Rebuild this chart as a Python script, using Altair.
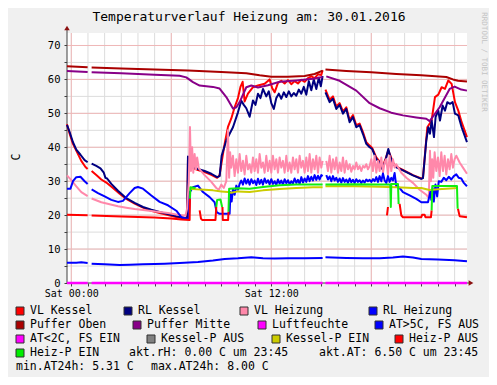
import altair as alt
import pandas as pd

MONO = "DejaVu Sans Mono"

# ---------------- texts / axis ----------------
TITLE = "Temperaturverlauf Heizung am: 30.01.2016"
WATERMARK = "RRDTOOL / TOBI OETIKER"
Y_UNIT = "C"
T_RANGE = [-0.258, 23.742]          # hours (Sat 00:00 = 0)
Y_RANGE = [0, 73.68]
X_TICK_HOURS = list(range(0, 24))
X_MAJOR_HOURS = [0, 6, 12, 18]
Y_TICKS = list(range(0, 75, 5))
Y_MAJOR = list(range(10, 80, 10))

# ---------------- series (hour, value); None = gap ----------------
VL_KESSEL = [(-0.26,46.8),(-0.1,44.0),(0.1,41.0),(0.35,38.5),(0.6,36.0),(0.85,34.2),(0.98,33.6),(1.1,None),
    (1.22,33.0),(1.5,31.8),(1.8,30.5),(2.1,29.6),(2.5,28.0),(2.9,26.3),(3.3,24.8),(3.8,23.4),(4.3,22.2),
    (4.8,21.3),(5.3,20.6),(5.8,20.0),(6.4,19.3),(6.95,18.9),(7.0,36.5),(7.1,34.6),(7.3,33.9),(7.6,33.3),
    (8.0,32.7),(8.4,31.9),(8.75,31.0),(8.9,31.8),(9.0,35.0),(9.2,41.0),(9.4,46.0),(9.6,48.5),(9.8,51.8),
    (10.0,54.5),(10.15,57.8),(10.28,59.3),(10.4,53.5),(10.6,55.8),(10.9,57.7),(11.2,58.2),(11.6,58.7),
    (11.9,60.0),(12.05,57.5),(12.2,56.2),(12.4,59.0),(12.6,59.6),(12.8,58.8),(13.0,59.8),(13.2,58.6),
    (13.4,59.5),(13.6,58.8),(13.8,59.9),(14.0,59.3),(14.2,60.4),(14.4,60.9),(14.6,60.4),(14.8,61.5),
    (15.0,61.3),(15.08,62.7),(15.16,None),(15.25,57.0),(15.5,54.0),(15.7,55.0),(15.9,52.0),(16.1,53.0),
    (16.3,50.5),(16.5,51.8),(16.7,48.0),(16.9,49.5),(17.1,46.5),(17.3,47.0),(17.5,44.5),(17.7,41.5),
    (17.9,40.5),(18.05,39.8),(18.3,37.0),(18.5,35.8),(18.65,34.0),(18.85,36.5),(19.02,39.0),(19.15,37.5),
    (19.3,35.5),(19.5,34.3),(19.9,33.3),(20.5,31.8),(21.0,30.8),(21.1,31.0),(21.36,45.9),(21.62,47.9),
    (21.82,54.8),(22.02,55.5),(22.22,57.7),(22.42,57.2),(22.62,59.7),(22.82,58.7),(23.02,53.3),
    (23.22,50.8),(23.42,47.4),(23.74,43.0)]

RL_KESSEL = [(-0.26,46.6),(-0.1,44.5),(0.1,41.5),(0.3,39.3),(0.55,37.8),(0.8,36.2),(0.98,35.6),(1.1,None),
    (1.22,35.2),(1.5,34.5),(1.75,33.8),(1.95,32.5),(2.05,31.0),(2.15,30.8),(2.4,29.2),(2.8,27.2),(3.3,25.0),
    (3.8,23.6),(4.3,22.4),(4.8,21.6),(5.3,20.9),(5.8,20.3),(6.3,19.7),(6.95,19.0),(7.0,37.3),(7.1,35.0),
    (7.3,34.2),(7.6,33.6),(8.0,33.0),(8.4,32.2),(8.75,31.2),(8.9,31.5),(9.02,37.5),(9.3,42.0),(9.5,44.0),
    (9.7,45.9),(10.0,50.3),(10.2,53.7),(10.35,52.5),(10.5,51.5),(10.7,49.0),(10.9,53.8),(11.05,52.5),
    (11.2,55.8),(11.35,54.5),(11.5,57.2),(11.7,55.0),(11.85,56.5),(12.0,53.0),(12.15,51.3),(12.3,54.5),
    (12.45,55.8),(12.6,54.3),(12.75,56.2),(12.9,54.8),(13.05,56.5),(13.2,55.0),(13.35,56.0),(13.5,55.2),
    (13.65,57.0),(13.8,55.8),(13.95,57.8),(14.1,55.5),(14.25,59.5),(14.4,56.8),(14.55,60.0),(14.7,57.2),
    (14.85,60.5),(14.97,58.0),(15.08,61.0),(15.16,None),(15.25,56.2),(15.5,53.3),(15.7,54.3),(15.9,51.3),
    (16.1,52.5),(16.3,49.9),(16.5,51.3),(16.7,47.4),(16.9,48.9),(17.1,45.9),(17.3,46.5),(17.5,43.9),
    (17.7,41.0),(17.9,40.0),(18.05,39.5),(18.3,36.5),(18.5,35.5),(18.65,33.6),(18.85,36.1),(19.02,39.5),
    (19.15,37.1),(19.3,35.1),(19.5,34.1),(19.9,33.2),(20.5,31.7),(21.0,30.7),(21.1,30.9),(21.3,42.0),
    (21.42,45.9),(21.52,44.0),(21.62,47.9),(21.76,43.0),(21.86,49.0),(22.02,50.8),(22.12,47.9),
    (22.28,52.3),(22.42,50.8),(22.56,53.3),(22.72,52.8),(22.88,53.3),(23.02,49.9),(23.22,49.4),
    (23.42,45.9),(23.74,41.5)]

VL_HEIZ_HEAD = [(-0.26,31.7),(0.0,30.3),(0.3,28.5),(0.6,26.8),(0.98,25.6),(1.1,None),(1.22,24.9),(1.8,23.8),
    (2.3,23.2),(2.8,22.6),(3.3,22.2),(3.8,21.8),(4.3,21.5),(4.8,21.2),(5.3,20.9),(5.8,20.6),(6.3,20.2),
    (6.85,19.8),(6.95,22.0),(7.05,30.0),(7.12,46.0),(7.18,33.0),(7.25,40.0),(7.32,32.5),(7.4,38.0),
    (7.48,33.5),(7.55,37.0),(7.65,33.8),(8.0,31.8),(8.4,29.8),(8.7,28.0),(8.85,27.5),(9.0,29.0),
    (9.15,28.0),(9.3,30.0),(9.4,45.0),(9.47,31.0),(9.53,38.5)]
VL_HEIZ_A_START = 9.6   # values every 0.1 h
VL_HEIZ_A = [34,37.5,31.5,36.5,32.5,38,33,36,32,37.5,33.5,35,32.5,37,33,36.5,32.5,38,34,35.5,32.5,37.5,33,36,
    32.5,37.5,33.5,36.5,32.5,37,34,36,32.5,37.5,33,35.5,32.5,37,33.5,36.5,32.5,37.5,34,36,32.5,37,33,38,32.5,
    36.5,33.5,37.5,32.5,37,34]
VL_HEIZ_MID = [(15.08,36.0),(15.16,None)]
VL_HEIZ_B_START = 15.3
VL_HEIZ_B = [36,33,37.5,32.5,36.5,33.5,37,32.5,35.5,33,37,32.5,36,33.5,35,32.8,34.5,33.5,35.5,33.5,34.5,33,34.5,
    34,35,33.5,34.5,36.5,33,37.5,32.5,36,33,37,32.5,35.5,36.5,32,37.5,33,36.5,34]
VL_HEIZ_TAIL = [(19.5,35.0),(19.8,32.5),(20.1,31.0),(20.5,29.5),(20.9,27.5),(21.3,26.0),(21.45,25.0),
    (21.52,39.0),(21.58,30.0),(21.65,36.5),(21.72,31.0),(21.8,38.5),(21.9,33.0),(22.0,37.0),(22.1,31.5),
    (22.2,38.5),(22.3,33.0),(22.4,37.5),(22.5,32.0),(22.6,36.5),(22.7,33.5),(22.8,38.0),(22.9,34.0),
    (23.0,36.5),(23.1,37.5),(23.3,35.5),(23.5,34.0),(23.74,32.2)]

RL_HEIZ_HEAD = [(-0.26,27.8),(-0.05,27.8),(0.1,30.0),(0.3,31.2),(0.55,31.3),(0.8,30.0),(0.98,29.2),(1.1,None),
    (1.22,27.6),(1.6,26.5),(2.0,25.5),(2.4,24.5),(2.8,23.9),(3.1,24.2),(3.5,26.5),(3.8,28.0),(4.0,28.3),
    (4.3,27.8),(4.8,25.8),(5.3,23.9),(5.8,22.9),(6.3,21.3),(6.6,19.4),(7.05,18.8),(7.12,26.8),(7.3,28.2),
    (7.6,28.7),(7.9,26.8),(8.3,25.3),(8.6,23.8),(8.72,20.9),(8.9,20.4),(9.5,20.4),(9.55,26.8),(9.62,24.0),
    (9.7,27.7),(9.8,26.0),(9.9,28.7),(10.0,27.5),(10.1,29.2)]
RL_HEIZ_A_START = 10.2
RL_HEIZ_A = [30.2,29.0,30.8,29.3,30.5,29.0,30.6,29.4,30.2,28.9,30.7,29.2,30.4,29.0,30.8,29.5,30.3,29.1,30.6,29.2,
    30.0,28.9,30.5,29.3,30.2,29.0,30.6,29.4,30.3,29.1,30.0,29.3,30.8,29.5,30.4,29.2,31.2,29.6,30.8,29.8,31.5,
    30.0,31.3,30.2,31.8,30.4,31.6,30.5,31.8]
RL_HEIZ_MID = [(15.08,31.5),(15.16,None)]
RL_HEIZ_B_START = 15.3
RL_HEIZ_B = [31.8,30.5,31.4,30.0,31.5,30.2,31.0,29.8,30.8,29.6,30.9,29.8,30.5,29.5,30.8,29.7,30.4,29.5,30.6,29.8,
    30.3,29.5,30.2,29.6,30.5,30.0,30.4,29.8,30.6,30.0,31.2,29.8,31.5,30.0,32.3,30.2,29.5,31.5,29.8,31.0,30.2,32.4]
RL_HEIZ_TAIL = [(19.5,28.5),(19.7,28.0),(19.9,26.8),(20.3,25.8),(20.7,24.8),(21.0,23.8),(21.4,23.8),
    (21.55,27.0),(21.6,24.5),(21.68,28.0),(21.75,24.0),(21.85,29.0),(21.95,25.5),(22.05,30.0),(22.2,29.8),
    (22.35,31.0),(22.5,30.3),(22.65,31.3),(22.8,30.5),(22.95,31.5),(23.1,32.0),(23.25,31.0),(23.4,30.8),
    (23.55,29.5),(23.74,28.5)]

PUFFER_OBEN = [(-0.26,63.9),(0.98,63.6),(1.1,None),(1.22,63.5),(3.0,63.2),(5.0,62.9),(7.0,62.6),(9.0,62.2),
    (10.5,61.8),(11.3,61.2),(12.0,60.8),(13.0,60.8),(14.0,61.0),(14.6,61.6),(15.08,62.6),(15.16,None),
    (15.25,62.9),(16.5,62.5),(18.0,62.1),(19.5,61.6),(21.0,61.2),(22.5,60.7),(22.9,60.0),(23.2,59.6),
    (23.74,59.4)]

PUFFER_MITTE = [(-0.26,62.5),(0.98,62.2),(1.1,None),(1.22,62.1),(3.0,61.8),(5.0,61.4),(6.5,61.1),(6.9,60.6),
    (7.3,59.2),(7.7,58.2),(8.5,57.8),(8.9,57.3),(9.3,54.8),(9.7,51.4),(9.9,51.8),(10.1,53.3),(10.5,57.7),
    (10.8,58.2),(11.2,57.6),(11.8,58.3),(12.5,59.3),(13.5,59.7),(14.5,60.2),(15.08,60.7),(15.16,None),
    (15.3,60.9),(16.1,59.6),(17.1,56.7),(17.9,53.0),(18.5,51.5),(19.2,50.2),(19.9,49.4),(20.7,48.8),
    (21.3,48.4),(21.5,47.7),(22.1,51.8),(22.7,57.2),(23.0,57.9),(23.4,57.0),(23.74,56.7)]

LUFTFEUCHTE = [(-0.26,0.0),(0.98,0.0),(1.1,None),(1.22,0.0),(15.08,0.0),(15.16,None),(15.25,0.0),(23.74,0.0)]

AUSSEN = [(-0.26,5.95),(0.3,6.0),(0.6,6.1),(0.98,5.9),(1.1,None),(1.22,5.7),(2.0,5.5),(2.9,5.31),(3.5,5.4),
    (4.3,5.5),(5.0,5.6),(5.6,5.7),(6.5,5.9),(7.6,6.2),(8.5,6.6),(9.2,7.1),(10.0,7.3),(10.8,7.6),(11.5,7.3),
    (12.2,7.2),(13.0,7.3),(14.0,7.3),(15.08,7.4),(15.16,None),(15.25,7.6),(16.5,7.4),(17.5,7.3),(18.5,7.3),
    (19.3,7.5),(19.9,7.8),(20.5,7.5),(21.0,7.1),(22.0,6.9),(23.0,6.7),(23.74,6.4)]

KESSEL_P_EIN = [(7.1,27.8),(7.5,27.6),(8.0,27.5),(8.5,27.3),(9.0,27.0),(9.4,26.8),(9.6,26.6),(10.0,27.0),
    (10.7,26.8),(11.5,27.3),(12.5,27.7),(13.5,28.0),(14.5,28.2),(15.08,28.2),(15.16,None),(15.25,28.5),
    (17.0,28.5),(18.5,28.4),(19.5,28.2),(20.5,28.0),(21.0,28.0),(21.5,27.4),(22.0,27.6),(22.5,27.8),
    (23.2,28.0)]

HEIZ_P_AUS = [(-0.26,20.1),(0.98,20.0),(1.1,None),(1.22,19.9),(3.0,19.6),(5.0,19.3),(6.0,19.0),(6.6,18.7),
    (7.1,18.6),(7.12,24.9),(7.3,None),(7.7,21.4),(7.78,19.0),(7.85,18.6),(8.65,18.6),(8.7,22.4),(8.8,None),
    (9.07,22.4),(9.09,18.6),(9.41,18.6),(9.43,21.0),(9.45,None),(18.94,19.9),(19.0,22.4),(19.05,None),
    (19.7,23.3),(19.8,19.9),(19.9,19.4),(21.0,19.4),(21.05,20.1),(21.2,20.1),(21.25,19.4),(21.58,19.4),
    (21.62,21.4),(21.65,None),(23.2,21.9),(23.3,19.7),(23.74,19.4)]

HEIZ_P_EIN = [(7.12,24.9),(7.15,28.2),(7.45,28.0),(7.5,None),(8.7,22.4),(8.75,24.5),(8.95,24.6),(9.05,22.4),
    (9.1,None),(9.43,21.0),(9.47,27.8),(10.0,27.9),(10.7,27.8),(11.5,28.3),(12.5,28.8),(13.5,29.0),
    (15.08,29.0),(15.16,None),(15.25,29.0),(17.0,29.1),(18.5,29.0),(19.14,29.0),(19.17,22.4),(19.2,29.2),
    (19.6,29.2),(19.64,23.3),(19.7,None),(21.62,21.4),(21.66,28.6),(23.14,28.6),(23.18,21.9)]

# ---------------- legend ----------------
LEGEND_LABELS = ["VL Kessel", "RL Kessel", "VL Heizung", "RL Heizung",
                 "Puffer Oben", "Puffer Mitte", "Luftfeuchte", "AT>5C, FS AUS",
                 "AT<2C, FS EIN", "Kessel-P AUS", "Kessel-P EIN", "Heiz-P AUS",
                 "Heiz-P EIN"]
LEGEND_COLORS = ["#ff0000", "#000080", "#ff88aa", "#0000ff",
                 "#aa0000", "#880088", "#ff00ff", "#0000ff",
                 "#ff00ff", "#808080", "#cccc00", "#ff0000",
                 "#00ee00"]
INFO_TEXTS = ["akt.rH: 0.00 C um 23:45", "akt.AT: 6.50 C um 23:45",
              "min.AT24h: 5.31 C", "max.AT24h: 8.00 C"]

# layout (page pixels)
OX, OY = 67, 33
LEG_BOX_X = [16, 124, 240, 369, 16, 133, 258, 375, 16, 147, 272, 395, 16]
LEG_ROW = [0, 0, 0, 0, 1, 1, 1, 1, 2, 2, 2, 2, 3]
ROW_Y = [311, 325, 339, 353, 367]
INFO_POS = [(129, 3), (319, 3), (16, 4), (151, 4)]


def frame(pairs):
    return pd.DataFrame({"t": [p[0] for p in pairs], "v": [p[1] for p in pairs]})


def grid_frame(start, values, step=0.1):
    return [(round(start + step * i, 2), val) for i, val in enumerate(values)]


VL_HEIZUNG = VL_HEIZ_HEAD + grid_frame(VL_HEIZ_A_START, VL_HEIZ_A) + VL_HEIZ_MID + \
    grid_frame(VL_HEIZ_B_START, VL_HEIZ_B) + VL_HEIZ_TAIL
RL_HEIZUNG = RL_HEIZ_HEAD + grid_frame(RL_HEIZ_A_START, RL_HEIZ_A) + RL_HEIZ_MID + \
    grid_frame(RL_HEIZ_B_START, RL_HEIZ_B) + RL_HEIZ_TAIL

X_SCALE = alt.Scale(domain=T_RANGE, nice=False, zero=False)
Y_SCALE = alt.Scale(domain=Y_RANGE, nice=False, zero=False)
X_AXIS = alt.Axis(values=X_TICK_HOURS,
                  labelExpr="datum.value == 0 ? 'Sat 00:00' : (datum.value == 12 ? 'Sat 12:00' : '')",
                  title=None, grid=False, domain=False, tickSize=3, tickColor="#404040",
                  labelFont=MONO, labelFontSize=10, labelColor="#000000", labelPadding=2,
                  labelOverlap=False, labelFlush=False, labelBound=False)
Y_AXIS = alt.Axis(values=Y_TICKS, labelExpr="datum.value % 10 == 0 ? datum.label : ''",
                  title=None, grid=False, domain=False, tickSize=3, tickColor="#404040",
                  labelFont=MONO, labelFontSize=10.5, labelColor="#000000", labelPadding=4,
                  labelOverlap=False, labelBound=False)


def X(f="t"):
    return alt.X(f + ":Q", scale=X_SCALE, axis=X_AXIS)


def Y(f="v"):
    return alt.Y(f + ":Q", scale=Y_SCALE, axis=Y_AXIS)


layers = []
# grid
layers.append(alt.Chart(pd.DataFrame({"t": X_TICK_HOURS})).mark_rule(color="#dcdcdc", strokeWidth=1)
              .encode(x=X()))
layers.append(alt.Chart(pd.DataFrame({"v": Y_TICKS[1:]})).mark_rule(color="#dcdcdc", strokeWidth=1)
              .encode(y=Y()))
layers.append(alt.Chart(pd.DataFrame({"t": X_MAJOR_HOURS})).mark_rule(color="#efb8b8", strokeWidth=1)
              .encode(x=X()))
layers.append(alt.Chart(pd.DataFrame({"v": Y_MAJOR})).mark_rule(color="#efb8b8", strokeWidth=1)
              .encode(y=Y()))

ONE = pd.DataFrame({"k": [0]})
# axis lines
layers.append(alt.Chart(ONE).mark_rule(color="#404040", strokeWidth=1)
              .encode(x=alt.value(0), y=alt.value(-4), y2=alt.value(250)))
layers.append(alt.Chart(ONE).mark_rule(color="#404040", strokeWidth=1)
              .encode(x=alt.value(0), x2=alt.value(402), y=alt.value(250)))

SERIES = [
    (VL_KESSEL, "#ff0000", 2),
    (RL_KESSEL, "#000080", 2),
    (VL_HEIZUNG, "#ff88aa", 2),
    (RL_HEIZUNG, "#0000ff", 2),
    (PUFFER_OBEN, "#aa0000", 2),
    (PUFFER_MITTE, "#880088", 2),
    (LUFTFEUCHTE, "#ff00ff", 2.5),
    (AUSSEN, "#0000ff", 2),
    (KESSEL_P_EIN, "#cccc00", 2),
    (HEIZ_P_AUS, "#ff0000", 2),
    (HEIZ_P_EIN, "#11ee11", 2),
]
for pairs, col, sw in SERIES:
    layers.append(alt.Chart(frame(pairs)).mark_line(color=col, strokeWidth=sw, strokeJoin="round")
                  .encode(x=X(), y=Y()))

# arrows
layers.append(alt.Chart(ONE).mark_point(shape="triangle-up", filled=True, size=30, color="#8b1010", opacity=1)
              .encode(x=alt.value(0), y=alt.value(-5)))
layers.append(alt.Chart(ONE).mark_point(shape="triangle-right", filled=True, size=30, color="#8b1010", opacity=1)
              .encode(x=alt.value(404), y=alt.value(250)))


def text(txt, x, y, size, color="#000000", angle=0, align="left"):
    return alt.Chart(ONE).mark_text(text=txt, font=MONO, fontSize=size, color=color, angle=angle,
                                    align=align, baseline="middle").encode(x=alt.value(x), y=alt.value(y))


layers.append(text(TITLE, 249 - OX, 17 - OY, 13, align="center"))
layers.append(text(Y_UNIT, 17 - OX, 157 - OY, 11.5, angle=270, align="center"))
layers.append(text(WATERMARK, 484 - OX, 62 - OY, 7.5, color="#c4c4c4", angle=90, align="center"))

for lab, col, bx, row in zip(LEGEND_LABELS, LEGEND_COLORS, LEG_BOX_X, LEG_ROW):
    ry = ROW_Y[row] - OY
    layers.append(alt.Chart(ONE).mark_rect(color=col, stroke="#303030", strokeWidth=1)
                  .encode(x=alt.value(bx - OX), x2=alt.value(bx - OX + 8),
                          y=alt.value(ry - 4), y2=alt.value(ry + 4)))
    layers.append(text(lab, bx + 14 - OX, ry, 11.5))

for txt, (px, row) in zip(INFO_TEXTS, INFO_POS):
    layers.append(text(txt, px - OX, ROW_Y[row] - OY, 11.5))

chart = alt.layer(*layers).properties(
    width=400, height=250, background="#f0f0f0",
    padding={"left": 59, "top": 25, "right": 22, "bottom": 94},
    autosize=alt.AutoSizeParams(type="none"),
).configure_view(fill="white", stroke=None)

chart.save("out.html", embed_options={"renderer": "svg", "actions": False})
